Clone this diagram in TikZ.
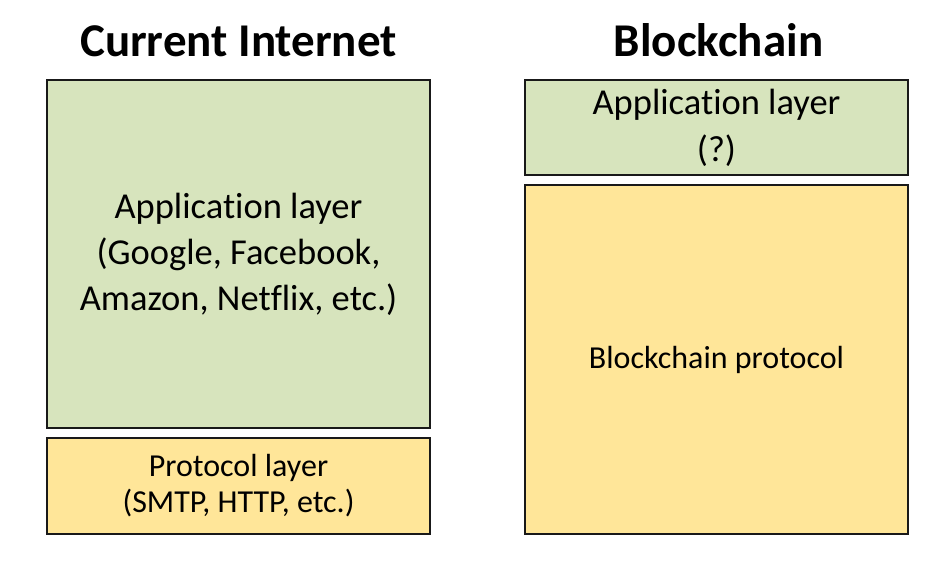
\documentclass[tikz,border=0pt]{standalone}
\usepackage{fontspec}
\setmainfont[Ligatures=NoCommon]{Carlito}
\usepackage{tikz}
\usetikzlibrary{backgrounds}

\begin{document}
\begin{tikzpicture}[x=1pt,y=-1pt]
\definecolor{appgreen}{HTML}{D7E4BD}
\definecolor{protoyellow}{HTML}{FFE699}
\tikzstyle{title} = [anchor=base, inner sep=0, font=\fontsize{47}{56}\selectfont\bfseries]
\tikzstyle{layer} = [rectangle, draw=black!90, line width=1.4, align=center, inner sep=0]
\tikzstyle{app} = [layer, fill=appgreen]
\tikzstyle{proto} = [layer, fill=protoyellow]
\useasboundingbox (0,0) rectangle (950,567);
\fill[white] (0,0) rectangle (950,567);
% left column
\node [title] (curtitle) at (238.5,57) {Current Internet};
\node [app, minimum width=383, minimum height=348, font=\fontsize{36.5}{46}\selectfont] (curapp) at (238.5,254)
  {Application layer\\(Google, Facebook,\\Amazon, Netflix, etc.)};
\node [proto, minimum width=383, minimum height=96, font=\fontsize{32}{36}\selectfont] (curproto) at (238.5,486)
  {Protocol layer\\(SMTP, HTTP, etc.)};
% right column
\node [title] (bctitle) at (718.5,57) {Blockchain};
\node [app, minimum width=383, minimum height=95, font=\fontsize{36.5}{47}\selectfont] (bcapp) at (716.5,127.5)
  {Application layer\\(?)};
\node [proto, minimum width=383, minimum height=349, font=\fontsize{32}{37}\selectfont] (bcproto) at (716.5,359.5)
  {Blockchain protocol};
\end{tikzpicture}
\end{document}
